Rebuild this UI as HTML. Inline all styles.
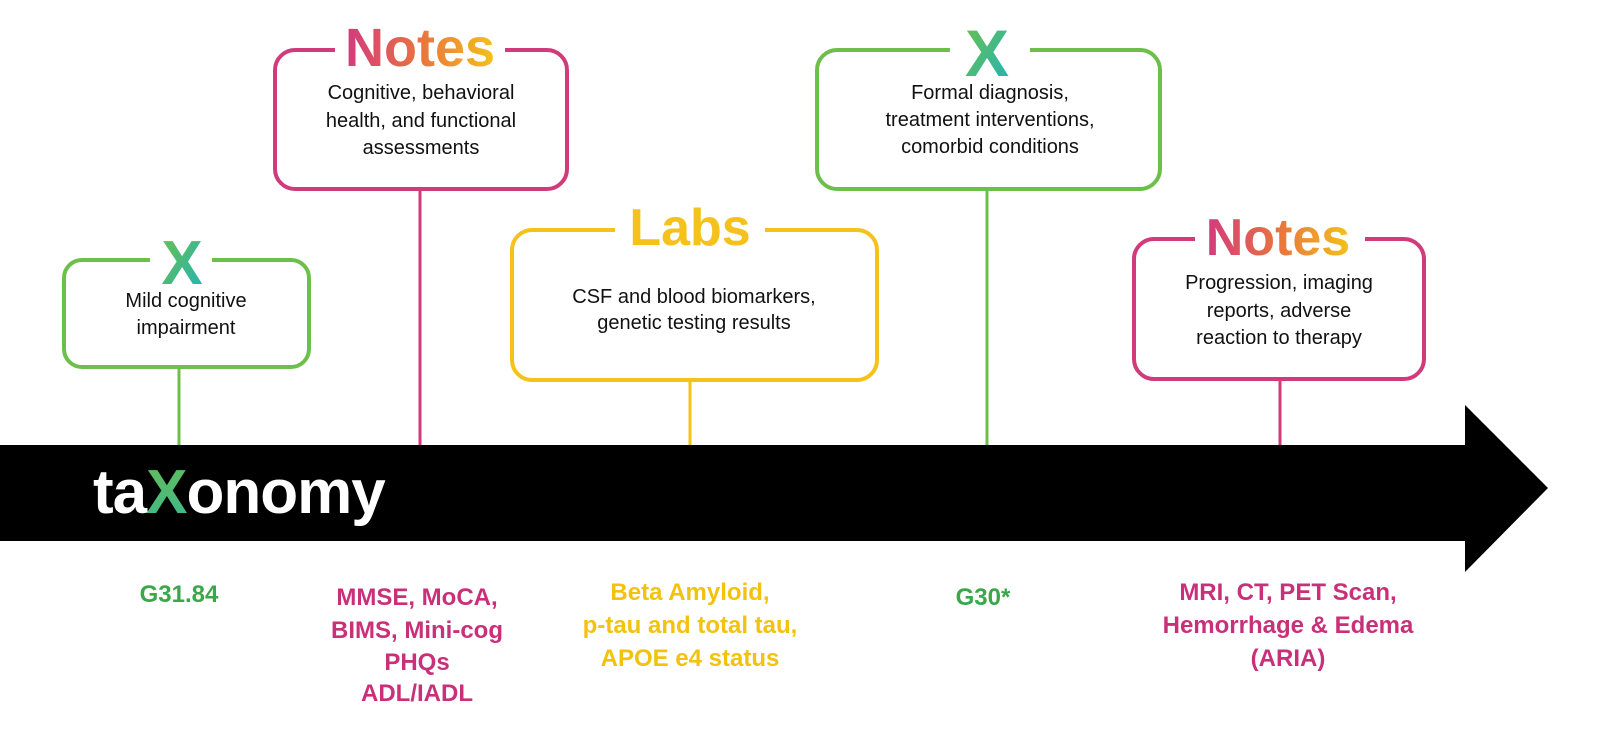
<!DOCTYPE html>
<html><head><meta charset="utf-8"><style>
html,body{margin:0;padding:0;background:#fff;}
svg{display:block;font-family:"Liberation Sans",sans-serif;}
</style></head><body>
<svg width="1600" height="736" viewBox="0 0 1600 736">
<defs>
<linearGradient id="gx" x1="0" y1="0" x2="1" y2="1"><stop offset="0" stop-color="#6cc04a"/><stop offset="1" stop-color="#22b3b8"/></linearGradient>
<linearGradient id="gn" x1="0" y1="0" x2="1" y2="0"><stop offset="0" stop-color="#d23a7e"/><stop offset="0.5" stop-color="#e8733f"/><stop offset="1" stop-color="#f4c21a"/></linearGradient>
</defs>
<!-- arrow -->
<rect x="0" y="445" width="1470" height="96" fill="#000"/>
<polygon points="1465,405 1548,488 1465,572" fill="#000"/>
<text x="93" y="513" font-size="62" font-weight="bold" fill="#fff" letter-spacing="-1">ta<tspan fill="url(#gx)">X</tspan>onomy</text>
<!-- connectors -->
<g stroke-width="3">
<line x1="179" y1="368" x2="179" y2="445" stroke="#6cc04a"/>
<line x1="420" y1="190" x2="420" y2="445" stroke="#d03b7c"/>
<line x1="690" y1="381" x2="690" y2="445" stroke="#f4c21a"/>
<line x1="987" y1="190" x2="987" y2="445" stroke="#6cc04a"/>
<line x1="1280" y1="380" x2="1280" y2="445" stroke="#d03b7c"/>
</g>
<!-- boxes -->
<g fill="none" stroke-width="4">
<rect x="64" y="260" width="245" height="107" rx="18" stroke="#6cc04a"/>
<rect x="275" y="50" width="292" height="139" rx="20" stroke="#d03b7c"/>
<rect x="512" y="230" width="365" height="150" rx="20" stroke="#f4c21a"/>
<rect x="817" y="50" width="343" height="139" rx="20" stroke="#6cc04a"/>
<rect x="1134" y="239" width="290" height="140" rx="20" stroke="#d03b7c"/>
</g>
<!-- title gaps -->
<g fill="#fff">
<rect x="150" y="250" width="62" height="20"/>
<rect x="335" y="40" width="170" height="20"/>
<rect x="615" y="220" width="150" height="20"/>
<rect x="950" y="40" width="80" height="20"/>
<rect x="1195" y="229" width="170" height="20"/>
</g>
<g font-weight="bold" text-anchor="middle">
<text x="182" y="284" font-size="62" fill="url(#gx)">X</text>
<text x="420" y="66" font-size="54" fill="url(#gn)">Notes</text>
<text x="690" y="245" font-size="52" fill="#f4c21a">Labs</text>
<text x="987" y="76" font-size="66" fill="url(#gx)">X</text>
<text x="1278" y="255" font-size="52" fill="url(#gn)">Notes</text>
</g>
<g font-size="20" fill="#111" text-anchor="middle">
<text x="186" y="307">Mild cognitive</text><text x="186" y="334">impairment</text>
<text x="421" y="99">Cognitive, behavioral</text><text x="421" y="127">health, and functional</text><text x="421" y="154">assessments</text>
<text x="694" y="303">CSF and blood biomarkers,</text><text x="694" y="329">genetic testing results</text>
<text x="990" y="99">Formal diagnosis,</text><text x="990" y="126">treatment interventions,</text><text x="990" y="153">comorbid conditions</text>
<text x="1279" y="289">Progression, imaging</text><text x="1279" y="317">reports, adverse</text><text x="1279" y="344">reaction to therapy</text>
</g>
<g font-size="24" font-weight="bold" text-anchor="middle">
<text x="179" y="602" fill="#3aa84a">G31.84</text>
<text x="417" y="605" fill="#c8317a">MMSE, MoCA,</text><text x="417" y="638" fill="#c8317a">BIMS, Mini-cog</text><text x="417" y="670" fill="#c8317a">PHQs</text><text x="417" y="701" fill="#c8317a">ADL/IADL</text>
<text x="690" y="600" fill="#f2c20f">Beta Amyloid,</text><text x="690" y="633" fill="#f2c20f">p-tau and total tau,</text><text x="690" y="666" fill="#f2c20f">APOE e4 status</text>
<text x="983" y="605" fill="#3aa84a">G30*</text>
<text x="1288" y="600" fill="#c8317a">MRI, CT, PET Scan,</text><text x="1288" y="633" fill="#c8317a">Hemorrhage &amp; Edema</text><text x="1288" y="666" fill="#c8317a">(ARIA)</text>
</g>
</svg>
</body></html>
